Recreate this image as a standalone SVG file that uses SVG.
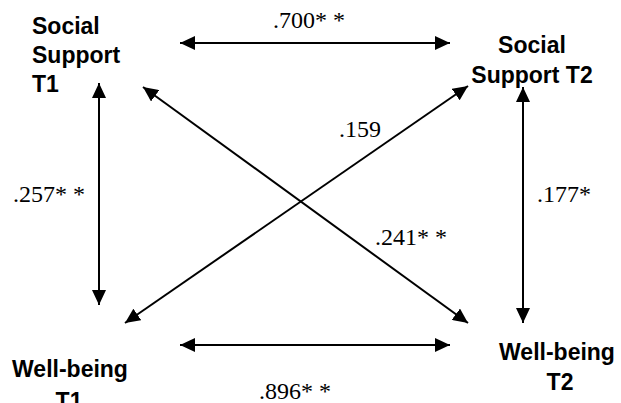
<svg xmlns="http://www.w3.org/2000/svg" width="621" height="403" viewBox="0 0 621 403">
<style>
.node{font-family:"Liberation Sans",Arial,sans-serif;font-weight:bold;font-size:23px;fill:#000}
.lbl{font-family:"Liberation Serif","Times New Roman",serif;font-size:24px;fill:#000}
.edge{stroke:#000;stroke-width:2;fill:none;marker-start:url(#ah);marker-end:url(#ah)}
</style>
<defs>
<marker id="ah" viewBox="0 0 15 14" refX="15" refY="7" markerWidth="15" markerHeight="14" markerUnits="userSpaceOnUse" orient="auto-start-reverse">
<path d="M0,0 L15,7 L0,14 Z" fill="#000"/>
</marker>
</defs>
<rect width="621" height="403" fill="#fff"/>
<g id="ss1"><text class="node" x="32" y="34">Social</text><text class="node" x="32" y="63">Support</text><text class="node" x="32" y="92">T1</text></g>
<g id="ss2"><text class="node" x="532" y="53" text-anchor="middle">Social</text><text class="node" x="532" y="83" text-anchor="middle">Support T2</text></g>
<g id="wb1"><text class="node" x="70" y="377" text-anchor="middle">Well-being</text><text class="node" x="69" y="409" text-anchor="middle">T1</text></g>
<g id="wb2"><text class="node" x="557" y="360" text-anchor="middle">Well-being</text><text class="node" x="560" y="390" text-anchor="middle">T2</text></g>
<g id="connectors">
<line class="edge" x1="180" y1="43" x2="450" y2="43"/>
<line class="edge" x1="180" y1="345" x2="450" y2="345"/>
<line class="edge" x1="99" y1="83" x2="99" y2="305"/>
<line class="edge" x1="523" y1="87" x2="523" y2="323"/>
<line class="edge" x1="143" y1="87" x2="468" y2="323"/>
<line class="edge" x1="125" y1="323" x2="468" y2="86"/>
</g>
<g id="labels">
<text class="lbl" x="273" y="28">.700* *</text>
<text class="lbl" x="259" y="399">.896* *</text>
<text class="lbl" x="13" y="202">.257* *</text>
<text class="lbl" x="537" y="202">.177*</text>
<text class="lbl" x="339" y="137">.159</text>
<text class="lbl" x="375" y="245">.241* *</text>
</g>
</svg>
